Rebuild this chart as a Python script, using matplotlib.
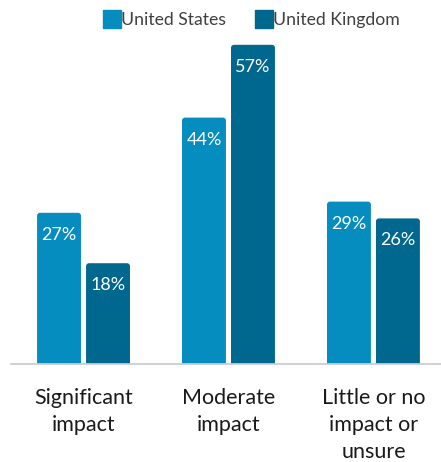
import matplotlib
matplotlib.use("Agg")
import matplotlib.pyplot as plt
from matplotlib.patches import FancyBboxPatch
from matplotlib.lines import Line2D
import numpy as np

# chart data
categories = ["Significant\nimpact", "Moderate\nimpact", "Little or no\nimpact or\nunsure"]
us_values = [27, 44, 29]
uk_values = [18, 57, 26]
series_names = ["United States", "United Kingdom"]
colors = ["#058dc0", "#00678e"]

plt.rcParams['font.family'] = ['Lato', 'DejaVu Sans']

fig = plt.figure(figsize=(4.41, 4.62), dpi=100)
ax = fig.add_axes([0.025, 0.2121, 0.975, 0.7273])

x = np.arange(len(categories))
width = 0.303
offset = 0.169
ax.set_xlim(-0.5, 2.466)
ax.set_ylim(0, 60)

# px -> data unit conversions, used for corner rounding
px_x = 2.966 / 430.0
px_y = 60 / 336.0
r = 3 * px_x
aspect = px_y / px_x

for vals, dx, col in [(us_values, -offset, colors[0]), (uk_values, offset, colors[1])]:
    bars = ax.bar(x + dx, vals, width, color=col, alpha=0)
    for b, v in zip(bars, vals):
        patch = FancyBboxPatch((b.get_x(), -2), b.get_width(), v + 2,
                               boxstyle=f"round,pad=0,rounding_size={r}",
                               mutation_aspect=aspect, facecolor=col,
                               edgecolor='none', clip_on=True, zorder=2)
        ax.add_patch(patch)
        ax.text(b.get_x() + b.get_width() / 2, v - 22 * px_y, f"{v}%",
                ha='center', va='center', color='white', fontsize=13, zorder=3)

ax.set_xticks(x)
ax.set_xticklabels(categories, fontsize=15.5, color='#1a1a1a', linespacing=1.45, va='top')
ax.tick_params(axis='x', length=0, pad=17)
ax.set_yticks([])
for s in ['top', 'right', 'left']:
    ax.spines[s].set_visible(False)
ax.spines['bottom'].set_color('#c9cdd4')
ax.spines['bottom'].set_linewidth(1.3)
ax.spines['bottom'].set_zorder(4)

handles = [Line2D([], [], marker='s', linestyle='none', markersize=13,
                  markerfacecolor=c, markeredgecolor=c) for c in colors]
fig.legend(handles, series_names, loc='center', bbox_to_anchor=(0.57, 0.957),
           ncol=2, frameon=False, fontsize=12.7, handletextpad=0.0,
           columnspacing=1.7, labelcolor='#404040', handlelength=1.0)

fig.savefig("out.png", dpi=100)
